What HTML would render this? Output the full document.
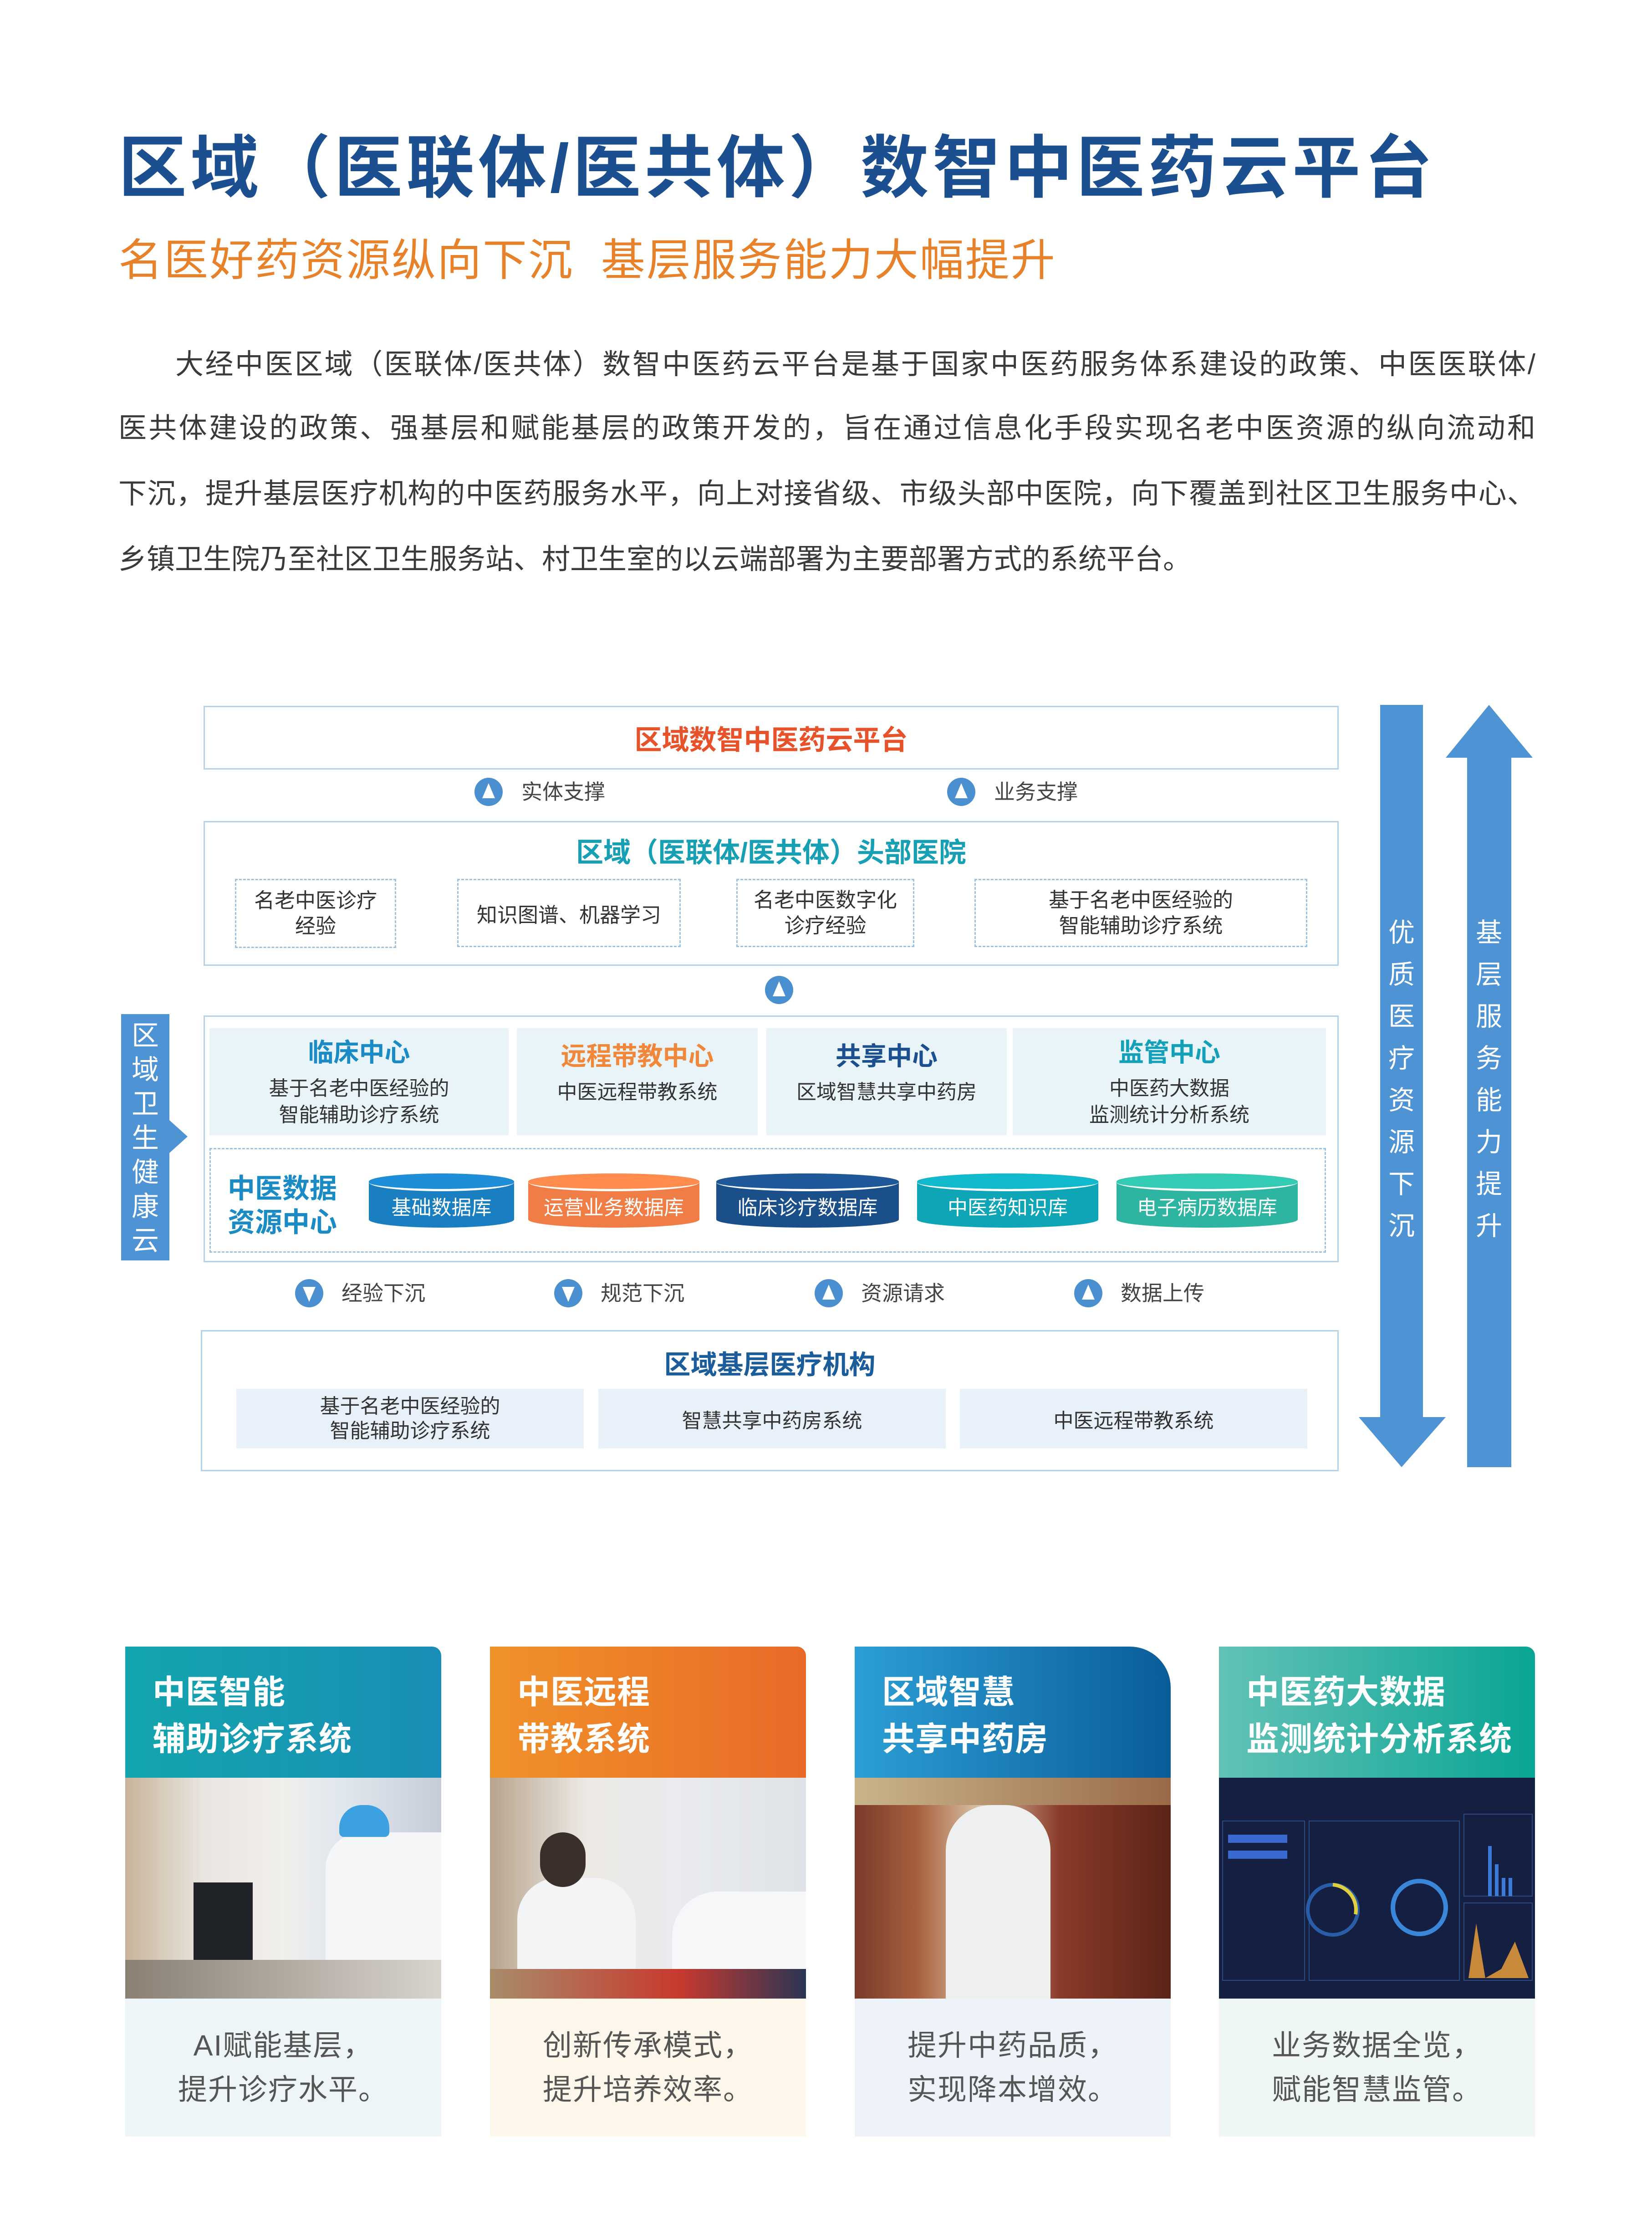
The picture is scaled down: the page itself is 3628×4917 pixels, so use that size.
<!DOCTYPE html>
<html><head><meta charset="utf-8"><style>
*{margin:0;padding:0;box-sizing:border-box}
body{width:3628px;height:4917px;background:#fff;position:relative;overflow:hidden;font-family:"Liberation Sans","Noto Sans CJK SC",sans-serif;color:#333}
.a{position:absolute}
.c{position:absolute;display:flex;align-items:center;justify-content:center;text-align:center}
.t{position:absolute;white-space:nowrap;line-height:1}
.para div{position:absolute;left:260px;width:3112px;font-size:62px;line-height:1;color:#3a3a3a;text-align:justify;text-align-last:justify;white-space:nowrap}
.box{position:absolute;border:3px solid #b4d2ea;background:#fff}
.dash{position:absolute;border:3px dashed #9fc3df;background:#fff}
.cell{position:absolute;background:#e9f4f9;display:flex;flex-direction:column;align-items:center;justify-content:center;text-align:center}
.cell b{font-size:56px;line-height:1;margin-bottom:22px}
.cell span{font-size:44px;line-height:58px;color:#333}
.cyl{position:absolute;height:119px;border-radius:50%/18px;display:flex;align-items:center;justify-content:center;color:#fff;font-size:44px;padding-top:22px}
.cyl::before{content:"";position:absolute;left:0;right:0;top:0;height:34px;border-radius:50%;border-bottom:5px solid #fff;background:inherit;filter:brightness(1.12)}
.lbl{position:absolute;font-size:46px;line-height:1;color:#444;white-space:nowrap}
.card{position:absolute;width:694px;top:3616px;height:1076px}
.card .h{position:absolute;left:0;top:0;width:694px;height:288px;border-top-right-radius:36px;color:#fff;font-weight:bold;font-size:72px;line-height:103px;padding:50px 0 0 60px;letter-spacing:1px}
.card .p{position:absolute;left:0;top:288px;width:694px;height:485px}
.card .x{position:absolute;left:0;top:773px;width:694px;height:303px;display:flex;align-items:center;justify-content:center;text-align:center;font-size:64px;line-height:97px;color:#555;letter-spacing:2px}
.vt{position:absolute;color:#fff;font-size:58px;line-height:92px;width:80px;text-align:center}
</style></head><body>

<div class="t" style="left:260px;top:294px;font-size:150px;font-weight:bold;color:#1b4f8f;letter-spacing:8px">区域（医联体/医共体）数智中医药云平台</div>
<div class="t" style="left:260px;top:523px;font-size:97px;color:#e8822a;letter-spacing:3px">名医好药资源纵向下沉&nbsp;&nbsp;基层服务能力大幅提升</div>

<div class="para">
<div style="top:770px;left:385px;width:2987px">大经中医区域（医联体/医共体）数智中医药云平台是基于国家中医药服务体系建设的政策、中医医联体/</div>
<div style="top:910px">医共体建设的政策、强基层和赋能基层的政策开发的，旨在通过信息化手段实现名老中医资源的纵向流动和</div>
<div style="top:1054px">下沉，提升基层医疗机构的中医药服务水平，向上对接省级、市级头部中医院，向下覆盖到社区卫生服务中心、</div>
<div style="top:1198px;width:auto;text-align:left;text-align-last:left">乡镇卫生院乃至社区卫生服务站、村卫生室的以云端部署为主要部署方式的系统平台。</div>
</div>

<!-- top box -->
<div class="box" style="left:447px;top:1550px;width:2493px;height:140px"></div>
<div class="c" style="left:447px;top:1550px;width:2493px;height:140px;font-size:60px;font-weight:bold;color:#e8522b">区域数智中医药云平台</div>

<svg class="a" style="left:0;top:0" width="3628" height="4917">
<defs>
<g id="up"><circle r="31" fill="#4a90d0"/><path d="M0,-19 L14,14 L-14,14Z" fill="#fff"/></g>
<g id="dn"><circle r="31" fill="#4a90d0"/><path d="M0,19 L14,-14 L-14,-14Z" fill="#fff"/></g>
</defs>
<use href="#up" x="1073" y="1739"/><use href="#up" x="2111" y="1739"/>
<use href="#up" x="1711" y="2174"/>
<use href="#dn" x="679" y="2840"/><use href="#dn" x="1248" y="2840"/>
<use href="#up" x="1820" y="2840"/><use href="#up" x="2390" y="2840"/>
<path d="M916,1980 L962,2005 L916,2030Z" fill="#14a0b6"/>
<path d="M1540,1980 L1586,2005 L1540,2030Z" fill="#14a0b6"/>
<path d="M2056,1980 L2102,2005 L2056,2030Z" fill="#14a0b6"/>
<path d="M3031,1548 L3125,1548 L3125,3112 L3175,3112 L3078,3222 L2984,3112 L3031,3112Z" fill="#4e93d3"/>
<path d="M3270,1548 L3366,1664 L3319,1664 L3319,3222 L3222,3222 L3222,1664 L3175,1664Z" fill="#4e93d3"/>
<path d="M372,2460 L412,2496 L372,2532Z" fill="#4e93d3"/>
</svg>

<div class="lbl" style="left:1145px;top:1716px">实体支撑</div>
<div class="lbl" style="left:2183px;top:1716px">业务支撑</div>

<!-- hospital box -->
<div class="box" style="left:447px;top:1803px;width:2493px;height:318px"></div>
<div class="c" style="left:447px;top:1835px;width:2493px;height:64px;font-size:60px;font-weight:bold;color:#17a0b3">区域（医联体/医共体）头部医院</div>
<div class="dash c" style="left:516px;top:1930px;width:354px;height:152px;font-size:45px;line-height:56px">名老中医诊疗<br>经验</div>
<div class="dash c" style="left:1004px;top:1930px;width:491px;height:150px;font-size:45px">知识图谱、机器学习</div>
<div class="dash c" style="left:1617px;top:1930px;width:391px;height:150px;font-size:45px;line-height:56px">名老中医数字化<br>诊疗经验</div>
<div class="dash c" style="left:2140px;top:1930px;width:731px;height:150px;font-size:45px;line-height:56px">基于名老中医经验的<br>智能辅助诊疗系统</div>

<!-- middle box -->
<div class="box" style="left:447px;top:2230px;width:2493px;height:542px"></div>
<div class="a" style="left:266px;top:2227px;width:106px;height:541px;background:#4e93d3"></div>
<div class="vt" style="left:279px;top:2237px;font-size:60px;line-height:75px">区<br>域<br>卫<br>生<br>健<br>康<br>云</div>

<div class="cell" style="left:460px;top:2258px;width:657px;height:235px;padding-top:10px"><b style="color:#1a8bc4">临床中心</b><span>基于名老中医经验的<br>智能辅助诊疗系统</span></div>
<div class="cell" style="left:1135px;top:2258px;width:529px;height:235px;justify-content:flex-start;padding-top:34px"><b style="color:#f0873a">远程带教中心</b><span>中医远程带教系统</span></div>
<div class="cell" style="left:1683px;top:2258px;width:528px;height:235px;justify-content:flex-start;padding-top:34px"><b style="color:#1b4f8f">共享中心</b><span>区域智慧共享中药房</span></div>
<div class="cell" style="left:2224px;top:2258px;width:688px;height:235px;padding-top:10px"><b style="color:#14a0b8">监管中心</b><span>中医药大数据<br>监测统计分析系统</span></div>

<div class="dash" style="left:460px;top:2521px;width:2452px;height:230px"></div>
<div class="t" style="left:500px;top:2574px;font-size:60px;line-height:74px;font-weight:bold;color:#1a8bc4">中医数据<br>资源中心</div>
<div class="cyl" style="left:810px;top:2577px;width:319px;background:#1a7fc0">基础数据库</div>
<div class="cyl" style="left:1160px;top:2577px;width:376px;background:#ef7d45">运营业务数据库</div>
<div class="cyl" style="left:1573px;top:2577px;width:401px;background:#1b4f89">临床诊疗数据库</div>
<div class="cyl" style="left:2014px;top:2577px;width:398px;background:#0ea5b6">中医药知识库</div>
<div class="cyl" style="left:2452px;top:2577px;width:398px;background:#2eb5a2">电子病历数据库</div>

<div class="lbl" style="left:750px;top:2817px">经验下沉</div>
<div class="lbl" style="left:1319px;top:2817px">规范下沉</div>
<div class="lbl" style="left:1891px;top:2817px">资源请求</div>
<div class="lbl" style="left:2461px;top:2817px">数据上传</div>

<!-- bottom box -->
<div class="box" style="left:441px;top:2921px;width:2499px;height:310px"></div>
<div class="c" style="left:441px;top:2960px;width:2499px;height:64px;font-size:58px;font-weight:bold;color:#1b5c9a">区域基层医疗机构</div>
<div class="c" style="left:519px;top:3050px;width:763px;height:131px;background:#e8f1f9;font-size:44px;line-height:54px">基于名老中医经验的<br>智能辅助诊疗系统</div>
<div class="c" style="left:1314px;top:3050px;width:763px;height:131px;background:#e8f1f9;font-size:44px">智慧共享中药房系统</div>
<div class="c" style="left:2108px;top:3050px;width:763px;height:131px;background:#e8f1f9;font-size:44px">中医远程带教系统</div>

<div class="vt" style="left:3038px;top:2003px">优<br>质<br>医<br>疗<br>资<br>源<br>下<br>沉</div>
<div class="vt" style="left:3230px;top:2003px">基<br>层<br>服<br>务<br>能<br>力<br>提<br>升</div>

<!-- cards -->
<div class="card" style="left:275px">
<div class="h" style="background:linear-gradient(90deg,#13a6ad,#1a8db6);border-top-right-radius:20px">中医智能<br>辅助诊疗系统</div>
<div class="p" style="background:linear-gradient(90deg,#c9b49a 0%,#e9e6e1 25%,#f1efec 50%,#dfe6ee 70%,#c7cdd6 100%)">
<div class="a" style="left:150px;top:230px;width:130px;height:200px;background:#202428"></div>
<div class="a" style="left:440px;top:120px;width:254px;height:365px;background:#f4f6f8;border-radius:80px 0 0 0"></div>
<div class="a" style="left:470px;top:60px;width:110px;height:70px;background:#3da0e0;border-radius:50px 50px 10px 10px"></div>
<div class="a" style="left:0;top:400px;width:694px;height:85px;background:linear-gradient(90deg,#8a8074,#d8d4ce)"></div>
</div>
<div class="x" style="background:#eef5f6">AI赋能基层，<br>提升诊疗水平。</div>
</div>

<div class="card" style="left:1076px">
<div class="h" style="background:linear-gradient(90deg,#f0922a,#e86a27);border-top-right-radius:20px">中医远程<br>带教系统</div>
<div class="p" style="background:linear-gradient(90deg,#b8a48e 0%,#ece9e4 30%,#e9ebef 60%,#dfe2e6 100%)">
<div class="a" style="left:60px;top:220px;width:260px;height:265px;background:#f3f4f5;border-radius:90px 90px 0 0"></div>
<div class="a" style="left:400px;top:250px;width:294px;height:235px;background:#f6f7f8;border-radius:100px 0 0 0"></div>
<div class="a" style="left:110px;top:120px;width:100px;height:120px;background:#3a2f2a;border-radius:50px"></div>
<div class="a" style="left:0;top:420px;width:694px;height:65px;background:linear-gradient(90deg,#a88c6a,#c8392e 60%,#2a3554)"></div>
</div>
<div class="x" style="background:#fdf6ea">创新传承模式，<br>提升培养效率。</div>
</div>

<div class="card" style="left:1877px">
<div class="h" style="background:linear-gradient(90deg,#2c9fd6,#0a5c98);border-top-right-radius:90px">区域智慧<br>共享中药房</div>
<div class="p" style="background:linear-gradient(90deg,#7a3a2a 0%,#a8603f 20%,#d9c7a8 40%,#8a3a28 65%,#5a2418 100%)">
<div class="a" style="left:200px;top:60px;width:230px;height:425px;background:#eef0ef;border-radius:100px 100px 0 0"></div>
<div class="a" style="left:0;top:0;width:694px;height:60px;background:linear-gradient(90deg,#c9b48a,#9a6a48)"></div>
</div>
<div class="x" style="background:#eef3fa">提升中药品质，<br>实现降本增效。</div>
</div>

<div class="card" style="left:2677px">
<div class="h" style="background:linear-gradient(90deg,#62c2b6,#0aa594);border-top-right-radius:20px">中医药大数据<br>监测统计分析系统</div>
<div class="p" style="background:#141f42">
<svg width="694" height="485"><g fill="none" stroke="#2a4a80" stroke-width="2">
<rect x="8" y="95" width="180" height="350"/><rect x="198" y="95" width="330" height="350"/><rect x="538" y="80" width="150" height="180"/><rect x="538" y="275" width="150" height="170"/></g>
<circle cx="250" cy="290" r="55" fill="none" stroke="#2a5da8" stroke-width="8"/>
<path d="M250,235 A55,55 0 0,1 300,300" fill="none" stroke="#e0d040" stroke-width="8"/>
<circle cx="440" cy="285" r="58" fill="none" stroke="#3a86d8" stroke-width="10"/>
<path d="M595,150 v110 M610,190 v70 M625,220 v40 M640,220 v40" stroke="#3a7ad8" stroke-width="8"/>
<path d="M548,440 L565,320 L585,440 L620,420 L650,360 L680,440Z" fill="#c88a3a"/>
<rect x="20" y="125" width="130" height="18" fill="#3a6ad0"/><rect x="20" y="160" width="130" height="18" fill="#3a6ad0"/>
</svg>
</div>
<div class="x" style="background:#eef6f6">业务数据全览，<br>赋能智慧监管。</div>
</div>

</body></html>
